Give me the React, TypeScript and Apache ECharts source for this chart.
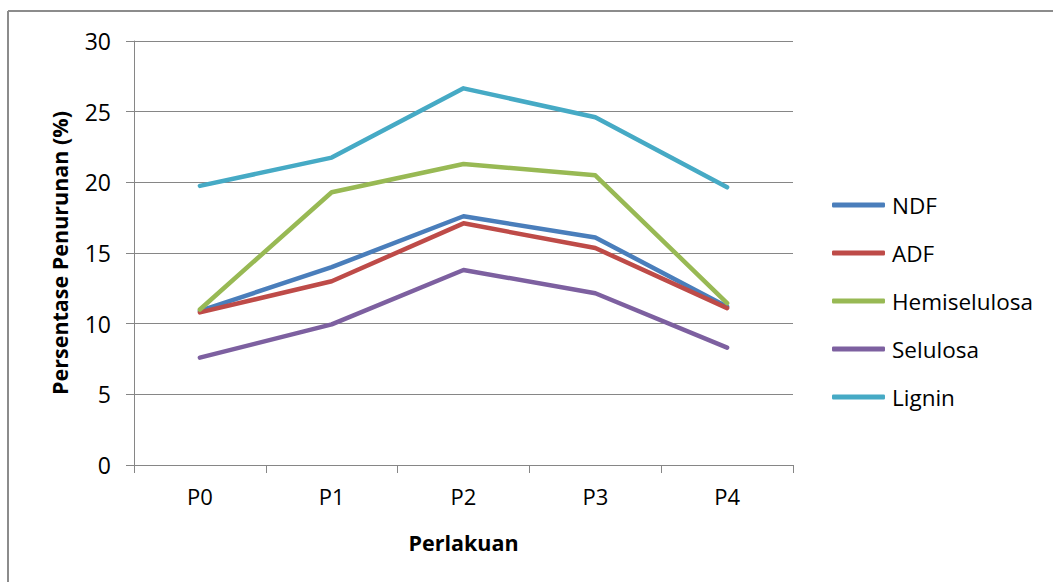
import React, { useEffect, useRef } from "react";
import * as echarts from "echarts";

const categories = ["P0", "P1", "P2", "P3", "P4"];
const seriesNames = ["NDF", "ADF", "Hemiselulosa", "Selulosa", "Lignin"];
const ndf = [10.9, 14.0, 17.6, 16.1, 11.2];
const adf = [10.8, 13.0, 17.1, 15.35, 11.1];
const hemiselulosa = [11.0, 19.3, 21.3, 20.5, 11.45];
const selulosa = [7.6, 9.95, 13.8, 12.15, 8.3];
const lignin = [19.75, 21.75, 26.65, 24.6, 19.65];
const seriesColors = ["#4A7EBB", "#BE4B48", "#98B954", "#7D60A0", "#46AAC5"];
const yTicks = { min: 0, max: 30, interval: 5 };

export default function App() {
  const ref = useRef<HTMLDivElement>(null);
  useEffect(() => {
    if (!ref.current) return;
    const chart = echarts.init(ref.current, undefined, { renderer: "svg" });
    const values = [ndf, adf, hemiselulosa, selulosa, lignin];
    const font = "'Open Sans', 'Noto Sans', sans-serif";
    const borderStyle = { stroke: "#8c8c8c", lineWidth: 2 };
    chart.setOption({
      animation: false,
      backgroundColor: "#ffffff",
      graphic: [
        { type: "line", shape: { x1: 8, y1: 11, x2: 1053, y2: 11 }, style: borderStyle, silent: true },
        { type: "line", shape: { x1: 8, y1: 11, x2: 8, y2: 582 }, style: borderStyle, silent: true },
      ],
      grid: { left: 134, right: 260, top: 41, bottom: 117, containLabel: false },
      legend: {
        orient: "vertical",
        left: 832,
        top: 191,
        padding: 0,
        icon: "roundRect",
        itemWidth: 53,
        itemHeight: 5,
        itemGap: 20,
        data: seriesNames,
        textStyle: { fontFamily: font, fontSize: 22.5, color: "#000", lineHeight: 28, padding: [0, 0, 0, 2] },
      },
      xAxis: {
        type: "category",
        data: categories,
        boundaryGap: true,
        name: "Perlakuan",
        nameLocation: "middle",
        nameGap: 66,
        nameTextStyle: { fontFamily: font, fontSize: 21.5, fontWeight: "bold", color: "#000" },
        axisLine: { lineStyle: { color: "#868686", width: 1 } },
        axisTick: { show: true, length: 8, lineStyle: { color: "#868686" } },
        axisLabel: { fontFamily: font, fontSize: 22, color: "#000", margin: 20 },
        splitLine: { show: false },
      },
      yAxis: {
        type: "value",
        min: yTicks.min,
        max: yTicks.max,
        interval: yTicks.interval,
        name: "Persentase Penurunan (%)",
        nameLocation: "middle",
        nameGap: 64,
        nameTextStyle: { fontFamily: font, fontSize: 21.5, fontWeight: "bold", color: "#000" },
        axisLine: { show: true, lineStyle: { color: "#868686", width: 1 } },
        axisTick: { show: true, length: 8, lineStyle: { color: "#868686" } },
        axisLabel: { fontFamily: font, fontSize: 23, color: "#000", margin: 23 },
        splitLine: { show: true, lineStyle: { color: "#868686", width: 1 } },
      },
      series: seriesNames.map((name, i) => ({
        name,
        type: "line",
        data: values[i],
        showSymbol: false,
        symbol: "none",
        color: seriesColors[i],
        lineStyle: { width: 4.5, color: seriesColors[i], cap: "round", join: "round" },
      })),
    });
    return () => chart.dispose();
  }, []);
  return <div ref={ref} style={{ width: 1053, height: 582, position: "absolute", left: 0, top: 0 }} />;
}
